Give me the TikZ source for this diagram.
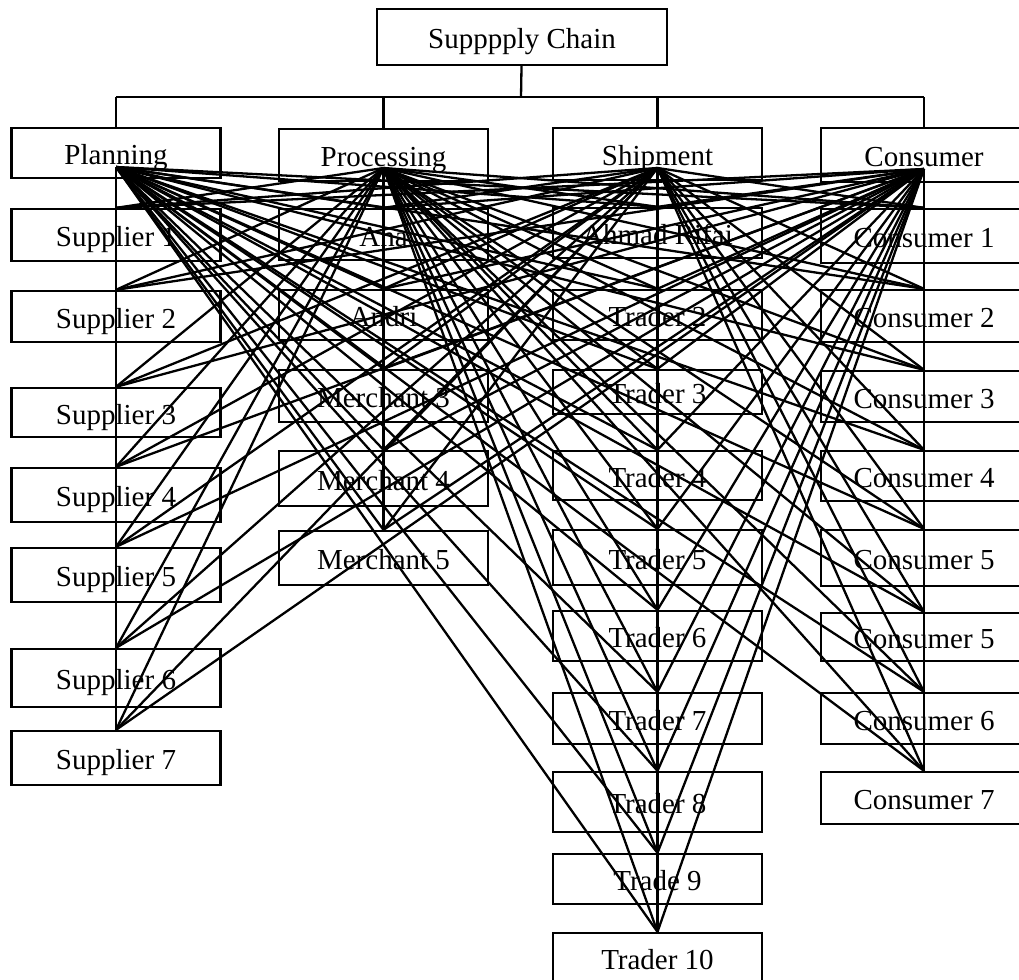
\documentclass[tikz,border=0pt]{standalone}
\usepackage{fontspec}
\setmainfont{Liberation Serif}
\usepackage{tikz}

\tikzset{
  caja/.style={draw, line width=2.3pt, minimum width=209pt, inner sep=0pt,
    text height=23pt, text depth=0pt, font=\fontsize{29}{32}\selectfont},
  enlace/.style={line width=2.3pt}
}

\begin{document}
\begin{tikzpicture}[x=1pt,y=-1pt]
  \useasboundingbox (0,0) rectangle (1019,979);
  \clip (0,0) rectangle (1019,979);

  % Caja principal y encabezados
  \node[caja, minimum width=290pt, minimum height=56pt] (chain) at (522,37) {Supppply Chain};
  \node[caja, minimum height=50pt] (plan) at (116,153) {Planning};
  \node[caja, minimum height=52pt] (proc) at (383.5,155) {Processing};
  \node[caja, minimum height=52pt] (ship) at (657.5,154) {Shipment};
  \node[caja, minimum width=206pt, minimum height=54pt] (cons) at (924,155) {Consumer};

  % Barra de conexion
  \coordinate (bar) at (521,97);
  \draw[enlace] (chain) -- (bar);
  \draw[enlace] (plan.north |- bar) -- (cons.north |- bar);
  \foreach \h in {plan,proc,ship,cons}
    \draw[enlace] (\h.north) -- (\h.north |- bar);

  % Puntos de salida de cada encabezado
  \coordinate (hplan) at (116,167);
  \coordinate (hproc) at (383.5,168);
  \coordinate (hship) at (657.5,168);
  \coordinate (hcons) at (924,169);

  % Columnas
  \foreach \n/\y/\h in {1/235/52, 2/316.5/51, 3/412.5/49, 4/495/54, 5/575/54, 6/678/58, 7/758/54}
    \node[caja, minimum height=\h] (sup\n) at (116,\y) {Supplier \n};
  \foreach \n/\y/\h/\t in {1/234.5/51/Ana, 2/315/50/Andri, 3/396/52/Merchant 3,
      4/478.5/55/Merchant 4, 5/558/54/Merchant 5}
    \node[caja, minimum height=\h] (mer\n) at (383.5,\y) {\t};
  \foreach \n/\y/\h/\t in {1/233/50/Ahmad Rifai, 2/315/50/Trader 2, 3/392/44/Trader 3,
      4/475.5/49/Trader 4, 5/557.5/55/Trader 5, 6/636/50/Trader 6, 7/718.5/51/Trader 7,
      8/802/60/Trader 8, 9/879/50/Trade 9, 10/958/50/Trader 10}
    \node[caja, minimum height=\h] (tra\n) at (657.5,\y) {\t};
  \foreach \n/\y/\h/\t in {1/236/54/Consumer 1, 2/316/52/Consumer 2, 3/396.5/51/Consumer 3,
      4/476/50/Consumer 4, 5/558/56/Consumer 5, 6/637/48/Consumer 5, 7/718.5/51/Consumer 6,
      8/798/52/Consumer 7}
    \node[caja, minimum width=206pt, minimum height=\h] (con\n) at (924,\y) {\t};

  % Lineas de cada encabezado a todas las cajas
  \foreach \h in {hplan,hproc,hship,hcons} {
    \foreach \i in {1,...,7} \draw[enlace] (\h) -- (sup\i.north);
    \foreach \i in {1,...,5} \draw[enlace] (\h) -- (mer\i.north);
    \foreach \i in {1,...,10} \draw[enlace] (\h) -- (tra\i.north);
    \foreach \i in {1,...,8} \draw[enlace] (\h) -- (con\i.north);
  }
\end{tikzpicture}
\end{document}
